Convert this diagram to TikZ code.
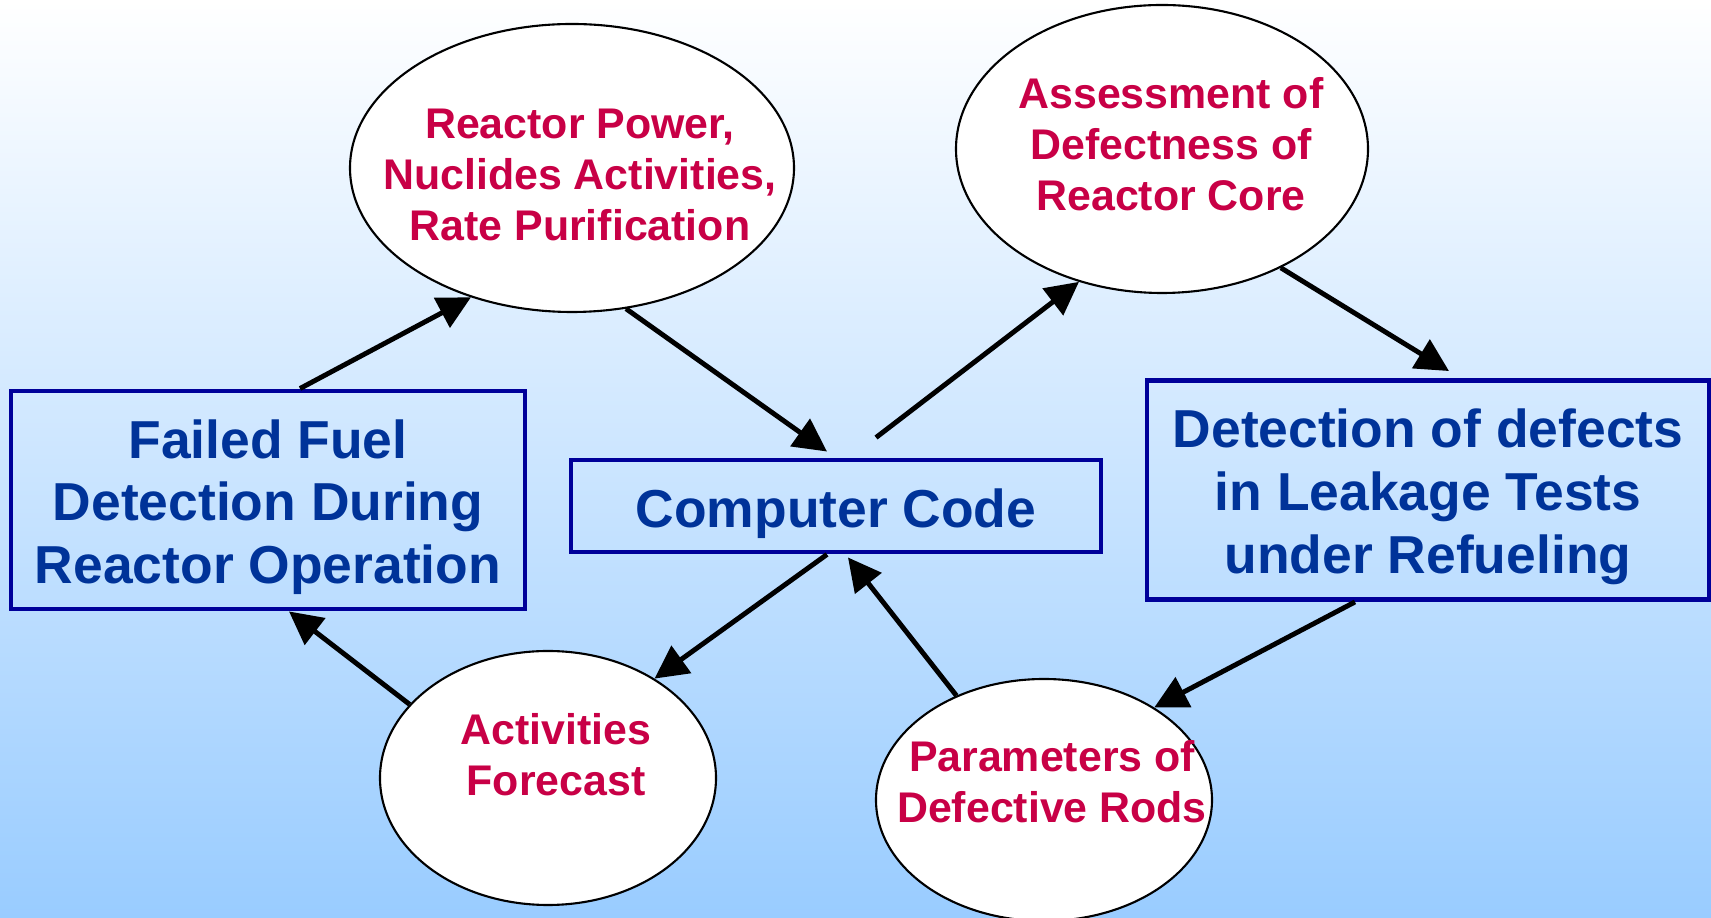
\documentclass[tikz,border=0pt]{standalone}
\usepackage{fontspec}
\setmainfont{Liberation Sans}
\usetikzlibrary{shapes.geometric,arrows.meta}
\definecolor{boxblue}{RGB}{0,0,153}
\definecolor{textblue}{RGB}{0,51,153}
\definecolor{textred}{RGB}{200,0,70}
\definecolor{skyblue}{RGB}{153,204,255}
\begin{document}
\begin{tikzpicture}[
    bigbox/.style={draw=boxblue, line width=1.4pt, inner sep=0pt, align=center,
        text=textblue, font=\fontsize{15.2}{17.9}\selectfont\bfseries},
    oval/.style={ellipse, draw=black, line width=0.6pt, fill=white, inner sep=0pt},
    ovaltext/.style={align=center, text=textred, font=\fontsize{12.2}{14.6}\selectfont\bfseries},
    flow/.style={-{Triangle[length=3.3mm,width=3.3mm]}, line width=1.4pt}]
    \shade[top color=white, bottom color=skyblue] (0,0) rectangle (17.11,9.18);
    \useasboundingbox (0,0) rectangle (17.11,9.18);
    % boxes
    \node[bigbox, minimum width=5.14cm, minimum height=2.18cm, text height=50.9pt] (fuel) at (2.68,4.18)
        {Failed Fuel\\Detection During\\Reactor Operation};
    \node[bigbox, minimum width=5.30cm, minimum height=0.92cm, text height=15.6pt] (code) at (8.36,4.12)
        {Computer Code};
    \node[bigbox, minimum width=5.62cm, minimum height=2.19cm, text height=50.9pt] (leak) at (14.28,4.28)
        {Detection of defects\\in Leakage Tests\\under Refueling};
    % ovals
    \node[oval, minimum width=4.44cm, minimum height=2.88cm] (power) at (5.72,7.50) {};
    \node[ovaltext] (powertxt) at ([xshift=0.8mm,yshift=-0.7mm]power.center)
        {Reactor Power,\\Nuclides Activities,\\Rate Purification};
    \node[oval, minimum width=4.12cm, minimum height=2.88cm] (core) at (11.62,7.69) {};
    \node[ovaltext] (coretxt) at ([xshift=0.9mm,yshift=0.5mm]core.center)
        {Assessment of\\Defectness of\\Reactor Core};
    \node[oval, minimum width=3.36cm, minimum height=2.54cm] (fcast) at (5.48,1.40) {};
    \node[ovaltext] (fcasttxt) at ([xshift=0.8mm,yshift=2.3mm]fcast.center)
        {Activities\\Forecast};
    \node[oval, minimum width=3.36cm, minimum height=2.42cm] (rods) at (10.44,1.18) {};
    \node[ovaltext] (rodstxt) at ([xshift=0.8mm,yshift=1.8mm]rods.center)
        {Parameters of\\Defective Rods};
    % arrows
    \draw[flow] ([xshift=3.2mm]fuel.north) -- (power.232);
    \draw[flow] (power.291) -- ([xshift=-0.9mm,yshift=0.6mm]code.north);
    \draw[flow] ([xshift=4mm,yshift=2mm]code.north) -- (core.238);
    \draw[flow] (core.315) -- ([xshift=2.1mm,yshift=0.7mm]leak.north);
    \draw[flow] ([xshift=-7.3mm]leak.south) -- (rods.40);
    \draw[flow] (rods.130) -- ([xshift=1.2mm,yshift=-0.3mm]code.south);
    \draw[flow] ([xshift=-0.9mm]code.south) -- (fcast.43);
    \draw[flow] (fcast.152) -- ([xshift=2.1mm]fuel.south);
\end{tikzpicture}
\end{document}
